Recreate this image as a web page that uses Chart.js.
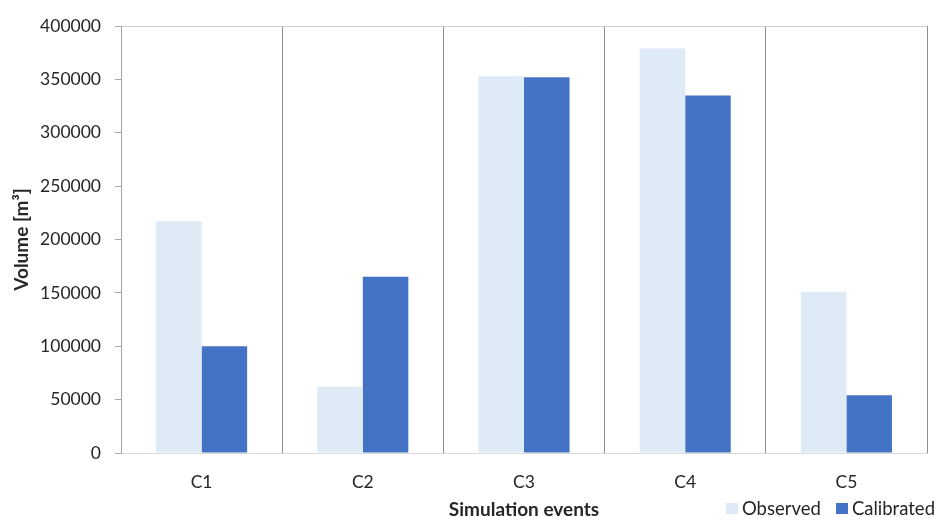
<!DOCTYPE html>
<html>
<head>
<meta charset="utf-8">
<script src="https://cdn.jsdelivr.net/npm/chart.js@4/dist/chart.umd.min.js"></script>
<style>
  html, body { margin: 0; padding: 0; background: #ffffff; }
  #wrap { position: relative; width: 940px; height: 517px; }
  #legend {
    position: absolute; right: 5px; top: 497px; line-height: 22px;
    font-family: Lato, "Open Sans", sans-serif; font-size: 18.5px; color: #262626;
    display: flex; align-items: center; white-space: nowrap;
  }
  #legend span.item { display: inline-flex; align-items: center; margin-left: 15px; }
  #legend span.box { display: inline-block; width: 12px; height: 11px; margin-right: 4px; }
</style>
</head>
<body>
<div id="wrap">
  <canvas id="c" width="940" height="517"></canvas>
  <div id="legend"></div>
</div>
<script>
// Simulation events and the volumes for each
const categories = ['C1', 'C2', 'C3', 'C4', 'C5'];
const observed   = [217000, 62000, 353000, 379000, 151000];
const calibrated = [100000, 165000, 352000, 335000, 54000];
const seriesNames = ['Observed', 'Calibrated'];
const seriesColors = ['#DEEAF6', '#4472C4'];

const FONT = 'Lato, "Open Sans", sans-serif';
const textColor = '#262626';

const chart = new Chart(document.getElementById('c'), {
  type: 'bar',
  data: {
    labels: categories,
    datasets: [
      { label: seriesNames[0], data: observed, backgroundColor: seriesColors[0] },
      { label: seriesNames[1], data: calibrated, backgroundColor: seriesColors[1] }
    ]
  },
  options: {
    responsive: false,
    animation: false,
    layout: { padding: { top: 26, right: 13, bottom: 0, left: 0 } },
    datasets: { bar: { categoryPercentage: 0.565, barPercentage: 1.0 } },
    plugins: {
      legend: { display: false },
      tooltip: { enabled: false }
    },
    scales: {
      x: {
        offset: true,
        grid: {
          offset: true,
          drawTicks: false,
          color: (ctx) => ctx.index >= categories.length ? '#d0d0d0' : '#8c8c8c',
          lineWidth: 1
        },
        border: { display: true, color: '#d9d9d9', width: 1 },
        ticks: { color: textColor, font: { family: FONT, size: 17.5 }, padding: 19 },
        title: {
          display: true, text: 'Simulation events', color: textColor,
          font: { family: FONT, size: 19, weight: 'bold' },
          padding: { top: 0, bottom: -4 }
        },
        afterFit: (s) => { s.height = 64; }
      },
      y: {
        min: 0, max: 400000,
        ticks: {
          stepSize: 50000, color: textColor,
          font: { family: FONT, size: 17.5 }, padding: 14,
          callback: (v) => String(v)
        },
        grid: {
          color: (ctx) => (ctx.tick && ctx.tick.value === 400000) ? '#d0d0d0' : 'rgba(0,0,0,0)',
          tickColor: '#a6a6a6',
          tickLength: 6
        },
        border: { display: true, color: '#a6a6a6', width: 1 },
        title: {
          display: true, text: 'Volume [m³]', color: textColor,
          font: { family: FONT, size: 19, weight: 'bold' },
          padding: { top: 10, bottom: 0 }
        },
        afterFit: (s) => { s.width = 121; }
      }
    }
  }
});

// Legend entries built from the chart's own datasets
const legendEl = document.getElementById('legend');
chart.data.datasets.forEach((ds) => {
  const item = document.createElement('span');
  item.className = 'item';
  const box = document.createElement('span');
  box.className = 'box';
  box.style.background = ds.backgroundColor;
  const label = document.createElement('span');
  label.textContent = ds.label;
  item.appendChild(box);
  item.appendChild(label);
  legendEl.appendChild(item);
});
</script>
</body>
</html>
